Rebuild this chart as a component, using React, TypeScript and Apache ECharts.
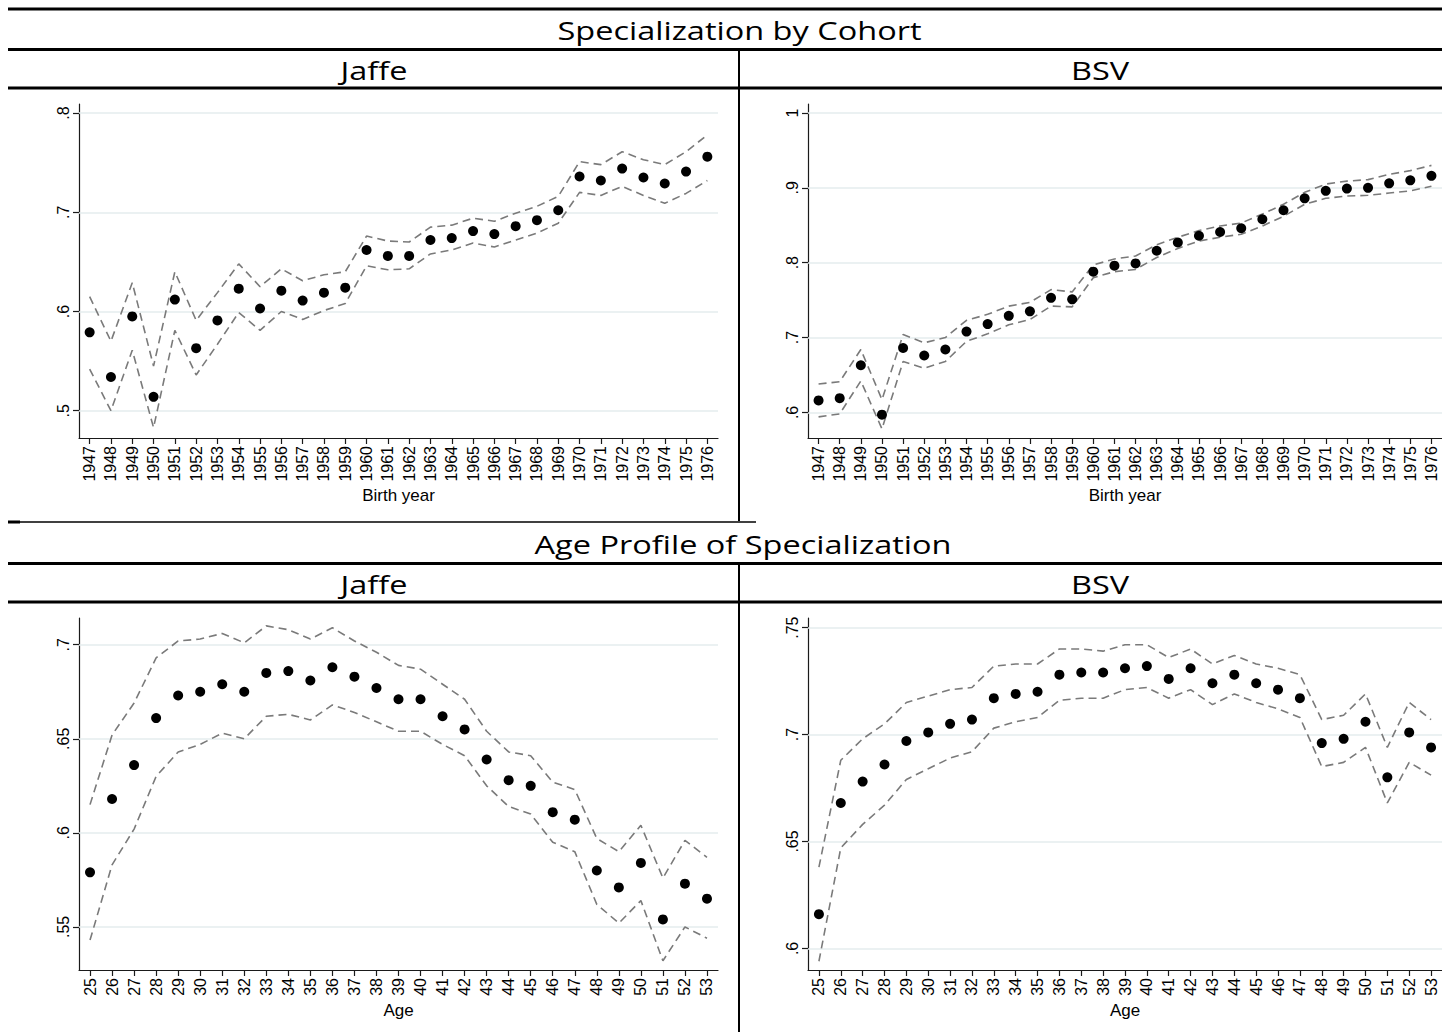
import React, { useEffect, useRef } from 'react';
import * as echarts from 'echarts';

const birthYears = ['1947', '1948', '1949', '1950', '1951', '1952', '1953', '1954', '1955', '1956', '1957', '1958', '1959', '1960', '1961', '1962', '1963', '1964', '1965', '1966', '1967', '1968', '1969', '1970', '1971', '1972', '1973', '1974', '1975', '1976'];
const ages = ['25', '26', '27', '28', '29', '30', '31', '32', '33', '34', '35', '36', '37', '38', '39', '40', '41', '42', '43', '44', '45', '46', '47', '48', '49', '50', '51', '52', '53'];

const cohortJaffe = [0.579, 0.534, 0.595, 0.514, 0.612, 0.563, 0.591, 0.623, 0.603, 0.621, 0.611, 0.619, 0.624, 0.662, 0.656, 0.656, 0.672, 0.674, 0.681, 0.678, 0.686, 0.692, 0.702, 0.736, 0.732, 0.744, 0.735, 0.729, 0.741, 0.756];
const cohortJaffeUpper = [0.615, 0.570, 0.629, 0.545, 0.640, 0.591, 0.619, 0.648, 0.625, 0.643, 0.631, 0.637, 0.640, 0.676, 0.671, 0.670, 0.685, 0.687, 0.694, 0.691, 0.699, 0.706, 0.716, 0.751, 0.748, 0.761, 0.753, 0.748, 0.761, 0.778];
const cohortJaffeLower = [0.542, 0.500, 0.561, 0.483, 0.581, 0.536, 0.567, 0.599, 0.581, 0.600, 0.592, 0.601, 0.608, 0.646, 0.642, 0.643, 0.658, 0.662, 0.669, 0.665, 0.672, 0.679, 0.689, 0.720, 0.717, 0.726, 0.717, 0.709, 0.719, 0.732];

const cohortBSV = [0.616, 0.619, 0.663, 0.597, 0.686, 0.676, 0.684, 0.708, 0.718, 0.729, 0.735, 0.753, 0.751, 0.788, 0.796, 0.799, 0.816, 0.827, 0.836, 0.841, 0.846, 0.858, 0.870, 0.886, 0.896, 0.899, 0.900, 0.906, 0.910, 0.916];
const cohortBSVUpper = [0.638, 0.641, 0.684, 0.617, 0.704, 0.693, 0.700, 0.723, 0.731, 0.742, 0.747, 0.764, 0.761, 0.797, 0.805, 0.809, 0.824, 0.834, 0.843, 0.849, 0.853, 0.865, 0.878, 0.894, 0.905, 0.909, 0.911, 0.918, 0.923, 0.930];
const cohortBSVLower = [0.594, 0.598, 0.642, 0.578, 0.668, 0.659, 0.668, 0.695, 0.705, 0.717, 0.724, 0.742, 0.741, 0.780, 0.788, 0.791, 0.807, 0.819, 0.829, 0.834, 0.838, 0.849, 0.862, 0.878, 0.886, 0.889, 0.890, 0.893, 0.896, 0.902];

const ageJaffe = [0.579, 0.618, 0.636, 0.661, 0.673, 0.675, 0.679, 0.675, 0.685, 0.686, 0.681, 0.688, 0.683, 0.677, 0.671, 0.671, 0.662, 0.655, 0.639, 0.628, 0.625, 0.611, 0.607, 0.580, 0.571, 0.584, 0.554, 0.573, 0.565];
const ageJaffeUpper = [0.615, 0.652, 0.669, 0.693, 0.702, 0.703, 0.706, 0.701, 0.710, 0.708, 0.703, 0.709, 0.702, 0.696, 0.689, 0.687, 0.679, 0.671, 0.654, 0.643, 0.641, 0.627, 0.623, 0.597, 0.590, 0.604, 0.576, 0.596, 0.587];
const ageJaffeLower = [0.543, 0.583, 0.602, 0.630, 0.643, 0.647, 0.653, 0.650, 0.662, 0.663, 0.660, 0.668, 0.664, 0.659, 0.654, 0.654, 0.647, 0.641, 0.625, 0.614, 0.610, 0.595, 0.590, 0.562, 0.552, 0.564, 0.532, 0.550, 0.544];

const ageBSV = [0.616, 0.668, 0.678, 0.686, 0.697, 0.701, 0.705, 0.707, 0.717, 0.719, 0.720, 0.728, 0.729, 0.729, 0.731, 0.732, 0.726, 0.731, 0.724, 0.728, 0.724, 0.721, 0.717, 0.696, 0.698, 0.706, 0.680, 0.701, 0.694];
const ageBSVUpper = [0.638, 0.688, 0.698, 0.705, 0.715, 0.718, 0.721, 0.722, 0.732, 0.733, 0.733, 0.740, 0.740, 0.739, 0.742, 0.742, 0.736, 0.740, 0.733, 0.737, 0.733, 0.731, 0.728, 0.707, 0.709, 0.719, 0.694, 0.715, 0.707];
const ageBSVLower = [0.594, 0.647, 0.658, 0.667, 0.679, 0.684, 0.689, 0.692, 0.703, 0.706, 0.708, 0.716, 0.717, 0.717, 0.721, 0.722, 0.717, 0.721, 0.714, 0.719, 0.715, 0.712, 0.708, 0.685, 0.687, 0.694, 0.668, 0.687, 0.681];

const cohortJaffeTicks = [0.5, 0.6, 0.7, 0.8];
const cohortBSVTicks = [0.6, 0.7, 0.8, 0.9, 1];
const ageJaffeTicks = [0.55, 0.6, 0.65, 0.7];
const ageBSVTicks = [0.6, 0.65, 0.7, 0.75];

const mainTitles = ['Specialization by Cohort', 'Age Profile of Specialization'];
const panelTitles = ['Jaffe', 'BSV'];
const xTitles = ['Birth year', 'Age'];

const STATA_FONT = 'Liberation Sans, Arial, Helvetica, sans-serif';
const HEAD_FONT = 'Open Sans, Noto Sans, sans-serif';

const fmt = (v: number) => {
  const s = String(Number(v.toFixed(3)));
  return s.startsWith('0.') ? s.slice(1) : s;
};

export default function App() {
  const ref = useRef<HTMLDivElement>(null);

  useEffect(() => {
    document.body.style.margin = '0';
    const chart = echarts.init(ref.current!, undefined, { renderer: 'svg' });

    const grids = [
      { left: 79, top: 104, width: 639, height: 334 },
      { left: 808, top: 104, width: 639, height: 334 },
      { left: 79, top: 618, width: 639, height: 352 },
      { left: 808, top: 618, width: 639, height: 352 },
    ];
    const ranges = [
      [0.4725, 0.8091],
      [0.5658, 1.012],
      [0.5271, 0.7142],
      [0.5899, 0.7545],
    ];
    const tickSets = [cohortJaffeTicks, cohortBSVTicks, ageJaffeTicks, ageBSVTicks];
    const cats = [birthYears, birthYears, ages, ages];
    const names = [xTitles[0], xTitles[0], xTitles[1], xTitles[1]];
    const gaps = [49, 49, 32, 32];
    const mids = [cohortJaffe, cohortBSV, ageJaffe, ageBSV];
    const ups = [cohortJaffeUpper, cohortBSVUpper, ageJaffeUpper, ageBSVUpper];
    const los = [cohortJaffeLower, cohortBSVLower, ageJaffeLower, ageBSVLower];

    const axisColor = '#1a1a1a';

    const xAxis = grids.map((_, i) => ({
      type: 'category',
      gridIndex: i,
      data: cats[i],
      boundaryGap: true,
      axisLine: { show: true, lineStyle: { color: axisColor, width: 1.2 } },
      axisTick: { show: true, alignWithLabel: true, length: 6, lineStyle: { color: axisColor, width: 1.2 } },
      axisLabel: { interval: 0, rotate: 90, fontSize: 16, fontFamily: STATA_FONT, color: '#000', margin: 8 },
      splitLine: { show: false },
      name: names[i],
      nameLocation: 'middle',
      nameGap: gaps[i],
      nameTextStyle: { fontSize: 17, fontFamily: STATA_FONT, color: '#000' },
    }));

    const yAxis = grids.map((_, i) => ({
      type: 'value',
      gridIndex: i,
      min: ranges[i][0],
      max: ranges[i][1],
      axisLine: { show: true, lineStyle: { color: axisColor, width: 1.2 } },
      axisTick: { show: true, length: 6, customValues: tickSets[i], lineStyle: { color: axisColor, width: 1.2 } },
      axisLabel: {
        customValues: tickSets[i],
        rotate: 90,
        fontSize: 16,
        fontFamily: STATA_FONT,
        color: '#000',
        margin: 8,
        formatter: (v: number) => fmt(v),
      },
      splitLine: { show: false },
    }));

    const series: any[] = [];
    grids.forEach((_, i) => {
      const dash = { color: '#7a7a7a', width: 1.6, type: [8, 5] };
      series.push({
        type: 'line',
        xAxisIndex: i,
        yAxisIndex: i,
        data: ups[i],
        symbol: 'none',
        lineStyle: dash,
        z: 2,
        markLine: {
          silent: true,
          symbol: 'none',
          label: { show: false },
          lineStyle: { color: '#e4ecee', width: 1.5, type: 'solid' },
          data: tickSets[i].map((v) => ({ yAxis: v })),
          z: 1,
        },
      });
      series.push({
        type: 'line',
        xAxisIndex: i,
        yAxisIndex: i,
        data: los[i],
        symbol: 'none',
        lineStyle: dash,
        z: 2,
      });
      series.push({
        type: 'scatter',
        xAxisIndex: i,
        yAxisIndex: i,
        data: mids[i],
        symbol: 'circle',
        symbolSize: 10,
        itemStyle: { color: '#000', opacity: 1 },
        z: 3,
      });
    });

    const hline = (x1: number, x2: number, y: number, w: number) => ({
      type: 'line',
      silent: true,
      shape: { x1, y1: y, x2, y2: y },
      style: { stroke: '#000', lineWidth: w },
    });
    const vline = (x: number, y1: number, y2: number, w: number) => ({
      type: 'line',
      silent: true,
      shape: { x1: x, y1, x2: x, y2 },
      style: { stroke: '#000', lineWidth: w },
    });
    const head = (text: string, x: number, y: number, sx: number) => ({
      type: 'text',
      silent: true,
      x,
      y,
      scaleX: sx,
      style: {
        text,
        fill: '#000',
        fontSize: 25,
        fontFamily: HEAD_FONT,
        align: 'center',
        verticalAlign: 'middle',
      },
    });

    const off = 514;
    const graphic = [
      hline(8, 1442, 9, 3),
      hline(8, 1442, 49.5, 3),
      hline(8, 1442, 88, 3),
      vline(739, 49.5, 521, 2),
      hline(8, 756, 522, 1.5),
      hline(8, 20, 522, 3),
      hline(8, 1442, 49.5 + off, 3),
      hline(8, 1442, 88 + off, 3),
      vline(739, 49.5 + off, 1032, 2),
      head(mainTitles[0], 739.5, 30, 1.3),
      head(panelTitles[0], 374, 70, 1.3),
      head(panelTitles[1], 1100, 70, 1.3),
      head(mainTitles[1], 743, 30 + off, 1.3),
      head(panelTitles[0], 374, 70 + off, 1.3),
      head(panelTitles[1], 1100, 70 + off, 1.3),
    ];

    chart.setOption({
      animation: false,
      backgroundColor: '#fff',
      grid: grids,
      xAxis,
      yAxis,
      series,
      graphic,
    });

    return () => chart.dispose();
  }, []);

  return <div ref={ref} style={{ position: 'absolute', left: 0, top: 0, width: 1442, height: 1032 }} />;
}
